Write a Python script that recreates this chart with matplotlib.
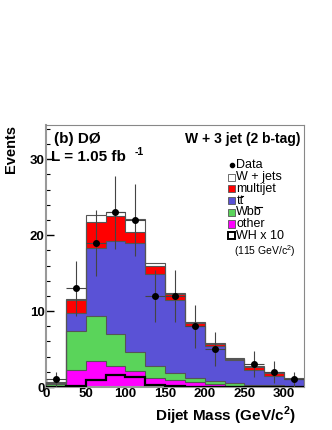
import numpy as np
import matplotlib
matplotlib.use("Agg")
import matplotlib.pyplot as plt
from matplotlib.patches import Rectangle
from matplotlib.lines import Line2D

plt.rcParams['font.family'] = ['Liberation Sans', 'DejaVu Sans']
plt.rcParams['mathtext.fontset'] = 'custom'
plt.rcParams['mathtext.rm'] = 'Liberation Sans'
plt.rcParams['mathtext.bf'] = 'Liberation Sans:bold'

# bin edges (GeV/c^2)
edges = np.arange(0, 326, 25)

# cumulative stack tops (other, +Wbb, +ttbar, +multijet, +W+jets)
top_other = [0.1, 2.3, 3.4, 2.8, 2.1, 1.2, 0.9, 0.6, 0.35, 0.15, 0.1, 0.05, 0.05]
top_wbb = [0.45, 7.4, 9.4, 7.0, 4.6, 2.8, 1.9, 1.2, 0.8, 0.5, 0.3, 0.2, 0.1]
top_ttbar = [0.5, 9.7, 18.3, 19.3, 19.0, 14.9, 11.5, 8.0, 5.4, 3.5, 2.3, 1.5, 1.0]
top_multijet = [0.55, 11.5, 21.7, 22.5, 20.4, 15.9, 12.3, 8.4, 5.7, 3.75, 2.7, 1.9, 1.1]
top_wjets = [0.6, 11.6, 22.6, 23.0, 22.1, 16.3, 12.4, 8.5, 5.8, 3.85, 2.8, 2.0, 1.15]

# WH signal x 10
wh_x10 = [0, 0.1, 0.9, 1.6, 1.3, 0.25, 0.1, 0.05, 0, 0, 0, 0, 0]

# data counts
data = [1, 13, 19, 23, 22, 12, 12, 8, 5, 0, 3, 2, 1]

# legend entries; the last letter of tt and Wbb gets a bar drawn over it
leg_labels = ["Data", "W + jets", "multijet", "tt", "Wbb", "other", "WH x 10"]
leg_bar = [False, False, False, True, True, False, False]
leg_colors = [None, "white", "#ff0000", "#5a52d6", "#5ad45a", "#ff00ff", "white"]

fig = plt.figure(figsize=(3.32, 4.30), dpi=100)
ax = fig.add_axes([0.1386, 0.1, 0.777, 0.609])

stack = [top_wjets, top_multijet, top_ttbar, top_wbb, top_other]
cols = ["white", "#ff0000", "#5a52d6", "#5ad45a", "#ff00ff"]
for vals, c in zip(stack, cols):
    ax.stairs(vals, edges, fill=True, color=c, zorder=2)
    ax.stairs(vals, edges, color="#555555", lw=0.8, zorder=3)

ax.stairs(wh_x10, edges, color="black", lw=1.6, zorder=4)

centers = (edges[:-1] + edges[1:]) / 2
d = np.array(data, dtype=float)
m = d > 0
ax.errorbar(centers[m], d[m], xerr=12.5, yerr=np.sqrt(d[m]), fmt="o", color="black",
            ecolor="#444444", elinewidth=0.8, markersize=4, zorder=5)

ax.set_xlim(0, 325)
ax.set_ylim(0, 34.5)
ax.set_xticks(np.arange(0, 301, 50))
ax.set_xticks(np.arange(0, 326, 10), minor=True)
ax.set_yticks([0, 10, 20, 30])
ax.set_yticks(np.arange(0, 35, 2), minor=True)
ax.tick_params(which="both", direction="in", top=False, right=False, labelsize=9.5, pad=1)
ax.tick_params(which="major", length=6, width=1)
ax.tick_params(which="minor", length=3, width=0.8)
for lab in ax.get_xticklabels() + ax.get_yticklabels():
    lab.set_fontweight("bold")
for s in ["left", "bottom"]:
    ax.spines[s].set_color("#999999")
    ax.spines[s].set_linewidth(1.5)
for s in ["top", "right"]:
    ax.spines[s].set_color("#888888")
    ax.spines[s].set_linewidth(0.8)

fig.text(0.89, 0.02, r"Dijet Mass (GeV/c$^{\mathbf{2}}$)", ha="right", va="baseline",
         fontsize=11, fontweight="bold")
fig.text(0.012, 0.709, "Events", rotation=90, ha="left", va="top", fontsize=10.5, fontweight="bold")

ax.text(0.03, 0.975, "(b) DØ", transform=ax.transAxes, ha="left", va="top", fontsize=11, fontweight="bold")
ax.text(0.02, 0.905, "L = 1.05 fb", transform=ax.transAxes, ha="left", va="top", fontsize=11, fontweight="bold")
ax.text(0.345, 0.918, "-1", transform=ax.transAxes, ha="left", va="top", fontsize=7.5, fontweight="bold")
ax.text(0.985, 0.975, "W + 3 jet (2 b-tag)", transform=ax.transAxes, ha="right", va="top",
        fontsize=10, fontweight="bold")

# legend drawn by hand in ROOT style
bx, tx = 0.707, 0.738
y0, dy = 0.846, 0.0448
bar_texts = []
for i, (lab, c) in enumerate(zip(leg_labels, leg_colors)):
    y = y0 - i * dy
    if c is None:
        ax.plot([bx + 0.014], [y], "o", color="black", markersize=3, transform=ax.transAxes, clip_on=False)
    else:
        ec = "black" if lab == "WH x 10" else "#555555"
        lw = 1.4 if lab == "WH x 10" else 0.6
        ax.add_patch(Rectangle((bx, y - 0.013), 0.026, 0.027, facecolor=c, edgecolor=ec, lw=lw,
                               transform=ax.transAxes, zorder=6))
    t = ax.text(tx, y, lab, transform=ax.transAxes, ha="left", va="center", fontsize=9, zorder=6)
    if leg_bar[i]:
        bar_texts.append(t)
ax.text(tx - 0.01, y0 - 7 * dy - 0.012, r"(115 GeV/c$^{\mathrm{2}}$)", transform=ax.transAxes, ha="left",
        va="center", fontsize=7.5, zorder=6)

# overline on the anti-quark letter
fig.canvas.draw()
rend = fig.canvas.get_renderer()
for t in bar_texts:
    bb = t.get_window_extent(rend)
    probe = fig.text(0, 0, t.get_text()[-1], fontsize=9)
    w = probe.get_window_extent(rend).width
    probe.remove()
    x1 = bb.x1 - 0.5
    x0 = bb.x1 - w + 0.8
    ytop = bb.y1 - 1.0
    (fx0, fy), (fx1, _) = fig.transFigure.inverted().transform([(x0, ytop), (x1, ytop)])
    fig.add_artist(Line2D([fx0, fx1], [fy, fy], color="black", lw=0.8, transform=fig.transFigure))

fig.savefig("out.png", dpi=100)
